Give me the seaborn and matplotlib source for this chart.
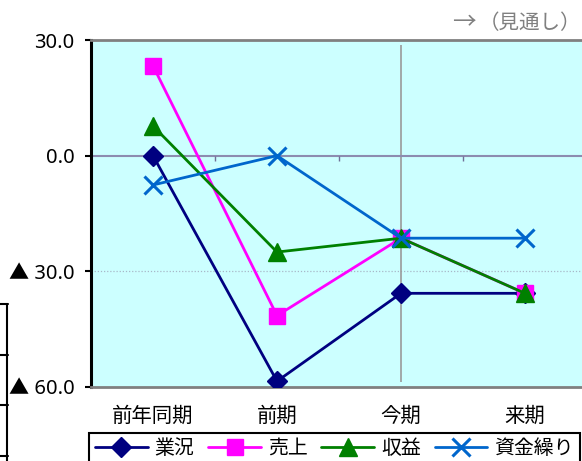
import matplotlib
matplotlib.use("Agg")
import matplotlib.pyplot as plt
from matplotlib.lines import Line2D
import seaborn as sns
import pandas as pd

# ---- data ----
categories = ["前年同期", "前期", "今期", "来期"]
gyokyo = [0.0, -58.5, -35.7, -35.7]      # 業況
uriage = [23.3, -41.5, -21.4, -35.7]     # 売上
shueki = [7.7, -25.0, -21.4, -35.7]      # 収益
shikin = [-7.6, 0.0, -21.4, -21.4]       # 資金繰り
series_names = ["業況", "売上", "収益", "資金繰り"]
y_ticks = [30, 0, -30, -60]
y_tick_labels = ["30.0", "0.0", "▲ 30.0", "▲ 60.0"]
note_arrow = "→"
note_text = "（見通し）"

sns.set_theme(style="white")
plt.rcParams["font.family"] = ["Liberation Sans", "Noto Sans CJK JP", "DejaVu Sans"]
plt.rcParams["text.color"] = "black"
plt.rcParams["xtick.labelcolor"] = "black"
plt.rcParams["ytick.labelcolor"] = "black"

W, H = 582, 461
fig = plt.figure(figsize=(W / 100, H / 100), dpi=100)
ax = fig.add_axes([91 / W, 1 - 387 / H, (587 - 91) / W, (387 - 40) / H])
ax.set_facecolor("#CCFFFF")

x_idx = list(range(len(categories)))
df = pd.DataFrame({"x": x_idx * 4,
                   "y": gyokyo + uriage + shueki + shikin,
                   "s": sum([[n] * len(categories) for n in series_names], [])})

colors = ["#000080", "#FF00FF", "#008000", "#0066CC"]
markers = ["D", "s", "^", "x"]
msizes = [10, 11, 12.5, 13]

for name, c, m, ms in zip(series_names, colors, markers, msizes):
    sub = df[df["s"] == name]
    sns.lineplot(data=sub, x="x", y="y", ax=ax, color=c, marker=m, markersize=ms,
                 markeredgecolor=c, markerfacecolor=c,
                 markeredgewidth=2.2 if m == "x" else 1,
                 linewidth=2, label=name, zorder=5)

ax.set_xlim(-0.5, 3.5)
ax.set_ylim(-60, 30)

# reference lines
ax.axhline(0, color="#8C8CB0", lw=1.5, zorder=2)
ax.axhline(-30, color="#A8B8C8", lw=0.9, ls=(0, (1, 1.5)), zorder=1)
ax.vlines([0.5, 1.5, 2.5], -1.4, 0, color="#707098", lw=1, zorder=2)
ax.vlines([2], -58.7, 28.7, color="#9A9A9A", lw=1.2, zorder=1)

# spines
ax.spines["right"].set_visible(False)
ax.spines["left"].set_color("black")
ax.spines["left"].set_linewidth(2.2)
ax.spines["top"].set_color("#808080")
ax.spines["top"].set_linewidth(2)
ax.spines["bottom"].set_color("#808080")
ax.spines["bottom"].set_linewidth(2)

ax.set_yticks(y_ticks)
ax.set_yticklabels(y_tick_labels, fontsize=14.5,
                   family=["Noto Sans", "Noto Sans CJK JP", "DejaVu Sans"])
ax.set_xticks(x_idx)
ax.set_xticklabels(categories, fontsize=14.7)
ax.tick_params(axis="y", left=True, length=4, width=1.5, color="black", pad=8)
ax.tick_params(axis="x", bottom=False, length=0, pad=14)
ax.set_xlabel("")
ax.set_ylabel("")

leg = ax.legend(loc="upper left", bbox_to_anchor=(89 / W, 1 - 433 / H),
                bbox_transform=fig.transFigure, ncol=4, frameon=True,
                fancybox=False, fontsize=14.3, handlelength=2.65,
                handletextpad=0.35, columnspacing=0.7, borderpad=0.3,
                borderaxespad=0)
leg.get_frame().set_edgecolor("black")
leg.get_frame().set_linewidth(1.5)
leg.get_frame().set_facecolor("white")
leg.get_frame().set_alpha(1)

cjk = ["Noto Sans CJK JP", "DejaVu Sans"]
fig.text(452 / W, 1 - 23 / H, note_arrow, color="#808080", fontsize=17,
         ha="left", va="center", family=cjk)
fig.text(581.5 / W, 1 - 23 / H, note_text, color="#808080", fontsize=14.8,
         ha="right", va="center", family=cjk)

# fragment of neighbouring table on the left
for yy in [304, 355, 405, 456]:
    fig.add_artist(Line2D([0, 8 / W], [1 - yy / H, 1 - yy / H], color="black", lw=1.5,
                          transform=fig.transFigure))
fig.add_artist(Line2D([7 / W, 7 / W], [1 - 304 / H, 0], color="black", lw=1.5,
                      transform=fig.transFigure))

fig.savefig("out.png", dpi=100)
